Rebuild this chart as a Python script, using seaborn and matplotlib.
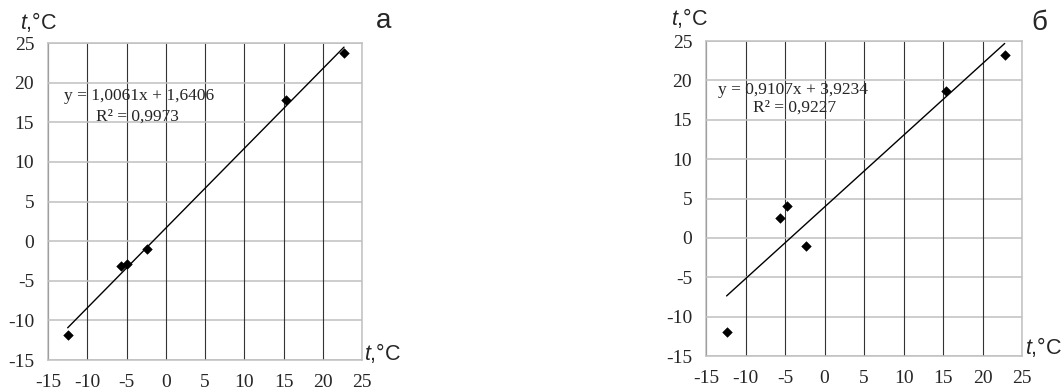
import numpy as np
import pandas as pd
import matplotlib
matplotlib.use("Agg")
import matplotlib.pyplot as plt
import seaborn as sns

# данные
x_a = [-12.5, -5.7, -4.9, -2.4, 15.3, 22.7]
y_a = [-11.8, -3.2, -2.9, -1.0, 17.8, 23.7]
k_a, b_a = 1.0061, 1.6406
eq_a = ["y = 1,0061x + 1,6406", "R² = 0,9973"]

x_b = [-12.4, -5.6, -4.8, -2.3, 15.4, 22.8]
y_b = [-12.0, 2.5, 4.1, -1.0, 18.6, 23.2]
k_b, b_b = 0.9107, 3.9234
eq_b = ["y = 0,9107x + 3,9234", "R² = 0,9227"]

ticks = [-15, -10, -5, 0, 5, 10, 15, 20, 25]
panel_labels = ["а", "б"]

sns.set_style("white")
plt.rcParams["font.family"] = ["Liberation Serif", "DejaVu Serif"]
plt.rcParams["axes.unicode_minus"] = False
plt.rcParams["mathtext.fontset"] = "custom"
plt.rcParams["mathtext.it"] = "Liberation Sans:italic"
plt.rcParams["mathtext.rm"] = "Liberation Sans"

fig = plt.figure(figsize=(10.63, 3.92), dpi=100)
ax_a = fig.add_axes([0.0452, 0.0816, 0.2954, 0.8087])
ax_b = fig.add_axes([0.6642, 0.0918, 0.2973, 0.8036])


def draw(ax, xs, ys, k, b, eq, eq_pos):
    df = pd.DataFrame({"x": xs, "y": ys})
    xl = np.array([min(xs), max(xs)])
    line = pd.DataFrame({"x": xl, "y": k * xl + b})
    ax.set_axisbelow(True)
    for t in ticks:
        ax.axhline(t, color="#c0c0c0", lw=1.1, zorder=0)
        ax.axvline(t, color="#333333", lw=0.8, zorder=0)
    sns.lineplot(data=line, x="x", y="y", ax=ax, color="black", lw=1.0)
    sns.scatterplot(data=df, x="x", y="y", ax=ax, marker="D", s=24,
                    color="black", edgecolor="black", zorder=5)
    ax.set_xlim(-15, 25)
    ax.set_ylim(-15, 25)
    ax.set_xticks(ticks)
    ax.set_yticks(ticks)
    ax.tick_params(length=0, pad=10, labelsize=14)
    ax.set_xlabel("")
    ax.set_ylabel("")
    for s in ax.spines.values():
        s.set_color("#c0c0c0")
        s.set_linewidth(1.1)
    (x1, y1), (x2, y2) = eq_pos
    ax.text(x1, y1, eq[0], fontsize=12.5, va="center", ha="left")
    ax.text(x2, y2, eq[1], fontsize=12.5, va="center", ha="left")


draw(ax_a, x_a, y_a, k_a, b_a, eq_a, [(-13.0, 18.3), (-8.9, 15.7)])
draw(ax_b, x_b, y_b, k_b, b_b, eq_b, [(-13.5, 18.8), (-9.0, 16.5)])

lab = "$t$,°C"
sans = ["Liberation Sans", "DejaVu Sans"]
W, H = 1063, 392
for px, py in [(20, 22), (364, 353), (671, 18), (1025, 347)]:
    fig.text(px / W, 1 - py / H, lab, fontsize=15.5, family=sans,
             ha="left", va="center")
fig.text(376 / W, 1 - 21 / H, panel_labels[0], fontsize=20, family=sans,
         ha="left", va="center")
fig.text(1031 / W, 1 - 23 / H, panel_labels[1], fontsize=20, family=sans,
         ha="left", va="center")

fig.savefig("out.png", dpi=100)
